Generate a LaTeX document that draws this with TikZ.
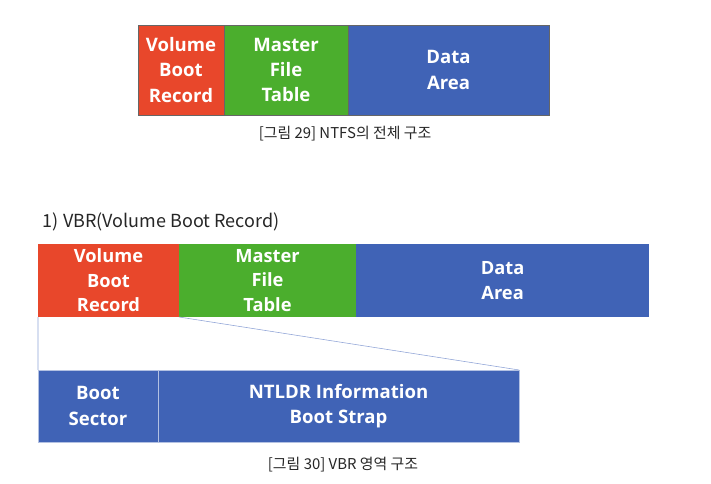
\documentclass[tikz,border=0pt]{standalone}
\usepackage{fontspec}
\setmainfont{Noto Sans CJK KR}
\newfontfamily\boxfont{Open Sans}
\usepackage{tikz}
\usetikzlibrary{positioning}

\definecolor{vbrred}{HTML}{E8472B}
\definecolor{mftgreen}{HTML}{4BAE2D}
\definecolor{areablue}{HTML}{4063B6}
\definecolor{zoomline}{HTML}{8FA3D6}

\tikzset{
  cell/.style={inner sep=0pt, outer sep=0pt, align=center, text=white,
    font=\boxfont\bfseries\fontsize{13.2}{18}\selectfont},
  topcell/.style={cell, draw=black!60, thin, minimum height=2.25cm},
  vbrcell/.style={cell, minimum height=1.825cm, font=\boxfont\bfseries\fontsize{13}{17.5}\selectfont},
  subcell/.style={cell, draw=white!60!areablue, thin, fill=areablue, minimum height=1.8cm},
  caption/.style={font=\fontsize{10.6}{12}\selectfont, text=black!85},
}

\begin{document}
\begin{tikzpicture}[x=0.025cm, y=-0.025cm]
  \useasboundingbox (0, 0) rectangle (711, 484);

  % NTFS overall structure
  \node[topcell, fill=vbrred, minimum width=2.15cm] (vbr) at (181, 70) {Volume\\Boot\\Record};
  \node[topcell, fill=mftgreen, minimum width=3.1cm, right=0pt of vbr] (mft) {Master\\File\\Table};
  \node[topcell, fill=areablue, minimum width=5.025cm, right=0pt of mft] (data) {Data\\Area};
  \node[caption] (cap29) at (345, 134) {[그림 29] NTFS의 전체 구조};

  % VBR section
  \node[anchor=west, font=\fontsize{12.8}{16}\selectfont, text=black!85] (title) at (38, 222) {1) VBR(Volume Boot Record)};
  \node[vbrcell, fill=vbrred, minimum width=3.525cm] (vbr2) at (108.5, 280.5) {Volume\\Boot\\Record};
  \node[vbrcell, fill=mftgreen, minimum width=4.425cm, right=0pt of vbr2] (mft2) {Master\\File\\Table};
  \node[vbrcell, fill=areablue, minimum width=7.325cm, right=0pt of mft2] (data2) {Data\\Area};

  % VBR detail
  \node[subcell, minimum width=3.0cm] (boot) at (98, 406) {Boot\\Sector};
  \node[subcell, minimum width=9.025cm, right=0pt of boot] (ntldr) {NTLDR Information\\Boot Strap};
  \draw[zoomline, thin] (vbr2.south west) -- (boot.north west);
  \draw[zoomline, thin] (vbr2.south east) -- (ntldr.north east);
  \node[caption] (cap30) at (343, 465) {[그림 30] VBR 영역 구조};
\end{tikzpicture}
\end{document}
